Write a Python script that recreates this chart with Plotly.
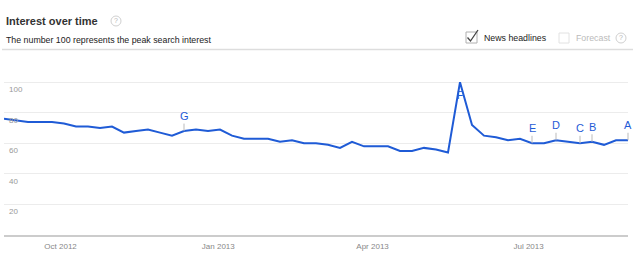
import pandas as pd
import plotly.graph_objects as go

# ---- data ----
week_start = "2012-08-29"
interest = [76, 75, 74, 74, 74, 73, 71, 71, 70, 71,
            67, 68, 69, 67, 65, 68, 69, 68, 69, 65,
            63, 63, 63, 61, 62, 60, 60, 59, 57, 61,
            58, 58, 58, 55, 55, 57, 56, 54, 100, 72,
            65, 64, 62, 63, 60, 60, 62, 61, 60, 61,
            59, 62, 62]
dates = pd.date_range(week_start, periods=len(interest), freq="7D")

headline_letters = ["G", "E", "D", "C", "B", "A"]
headline_index = [15, 44, 46, 48, 49, 52]
peak_letter = "F"
peak_index = 38

y_ticks = [20, 40, 60, 80, 100]
y_max = 106
x_tick_dates = ["2012-10-01", "2013-01-01", "2013-04-01", "2013-07-01"]
x_tick_text = ["Oct 2012", "Jan 2013", "Apr 2013", "Jul 2013"]

title_text = "Interest over time"
subtitle_text = "The number 100 represents the peak search interest"
news_label = "News headlines"
forecast_label = "Forecast"

# ---- layout geometry (pixels) ----
W, H = 640, 255
L, R, T, B = 4, 12, 73, 20
PW, PH = W - L - R, H - T - B
FONT = "Arial, Liberation Sans, sans-serif"
BLUE = "#1f5bd6"


def px(x):
    return (x - L) / PW


def py(y):
    return (H - B - y) / PH


fig = go.Figure()
fig.add_trace(go.Scatter(x=dates, y=interest, mode="lines",
                         line=dict(color=BLUE, width=2), hoverinfo="x+y",
                         showlegend=False, cliponaxis=False))

annotations = []
for letter, idx in zip(headline_letters, headline_index):
    annotations.append(dict(x=dates[idx], y=interest[idx], xref="x", yref="y",
                            text=letter, showarrow=True, arrowhead=0,
                            arrowwidth=1, arrowcolor="#bbbbbb", ax=0, ay=-15,
                            standoff=0, startstandoff=0,
                            font=dict(family=FONT, size=11, color=BLUE)))
annotations.append(dict(x=dates[peak_index], y=interest[peak_index], xref="x", yref="y",
                        text=peak_letter, showarrow=False, yshift=-13,
                        font=dict(family=FONT, size=10, color=BLUE)))

# header texts
annotations += [
    dict(x=px(4), y=py(21), xref="paper", yref="paper", text="<b>" + title_text + "</b>",
         showarrow=False, xanchor="left", yanchor="middle",
         font=dict(family=FONT, size=11, color="#333333")),
    dict(x=px(116), y=py(21), xref="paper", yref="paper", text="?",
         showarrow=False, xanchor="center", yanchor="middle",
         font=dict(family=FONT, size=7, color="#b5b5b5")),
    dict(x=px(4), y=py(40), xref="paper", yref="paper", text=subtitle_text,
         showarrow=False, xanchor="left", yanchor="middle",
         font=dict(family=FONT, size=8.8, color="#222222")),
    dict(x=px(482), y=py(38), xref="paper", yref="paper", text=news_label,
         showarrow=False, xanchor="left", yanchor="middle",
         font=dict(family=FONT, size=8.8, color="#222222")),
    dict(x=px(574), y=py(38), xref="paper", yref="paper", text=forecast_label,
         showarrow=False, xanchor="left", yanchor="middle",
         font=dict(family=FONT, size=8.8, color="#bbbbbb")),
    dict(x=px(621), y=py(38), xref="paper", yref="paper", text="?",
         showarrow=False, xanchor="center", yanchor="middle",
         font=dict(family=FONT, size=7, color="#b5b5b5")),
]

shapes = [
    # separator
    dict(type="line", xref="paper", yref="paper", x0=px(2), x1=px(633), y0=py(49.5), y1=py(49.5),
         line=dict(color="#dddddd", width=1.5)),
    # help circles
    dict(type="circle", xref="paper", yref="paper", x0=px(111), x1=px(121), y0=py(16), y1=py(26),
         line=dict(color="#d0d0d0", width=1)),
    dict(type="circle", xref="paper", yref="paper", x0=px(616), x1=px(626), y0=py(33), y1=py(43),
         line=dict(color="#d0d0d0", width=1)),
    # checked box
    dict(type="rect", xref="paper", yref="paper", x0=px(466), x1=px(477), y0=py(32), y1=py(43),
         line=dict(color="#b0b0b0", width=1)),
    dict(type="path", xref="paper", yref="paper",
         path=f"M {px(467.5)},{py(37.5)} L {px(470.5)},{py(41)} L {px(478)},{py(30)}",
         line=dict(color="#444444", width=1.3)),
    # unchecked box
    dict(type="rect", xref="paper", yref="paper", x0=px(559), x1=px(569), y0=py(33), y1=py(43),
         line=dict(color="#e2e2e2", width=1)),
]

fig.update_layout(
    width=W, height=H,
    margin=dict(l=L, r=R, t=T, b=B, pad=0),
    paper_bgcolor="white", plot_bgcolor="white",
    annotations=annotations, shapes=shapes,
    font=dict(family=FONT),
    xaxis=dict(type="date", range=[dates[0], dates[-1]],
               tickvals=x_tick_dates, ticktext=x_tick_text,
               showgrid=False, zeroline=False, ticks="",
               showline=True, linecolor="#cccccc", linewidth=2,
               tickfont=dict(family=FONT, size=8, color="#888888"), ticklabelstandoff=2),
    yaxis=dict(range=[0, y_max], tickvals=y_ticks, ticktext=[str(v) for v in y_ticks],
               showgrid=True, gridcolor="#ececec", gridwidth=1, zeroline=False,
               showline=False, ticks="", ticklabelposition="inside",
               ticklabelshift=7, ticklabelstandoff=2,
               tickfont=dict(family=FONT, size=8, color="#999999")),
    hovermode="closest",
)

fig.write_html("out.html")
